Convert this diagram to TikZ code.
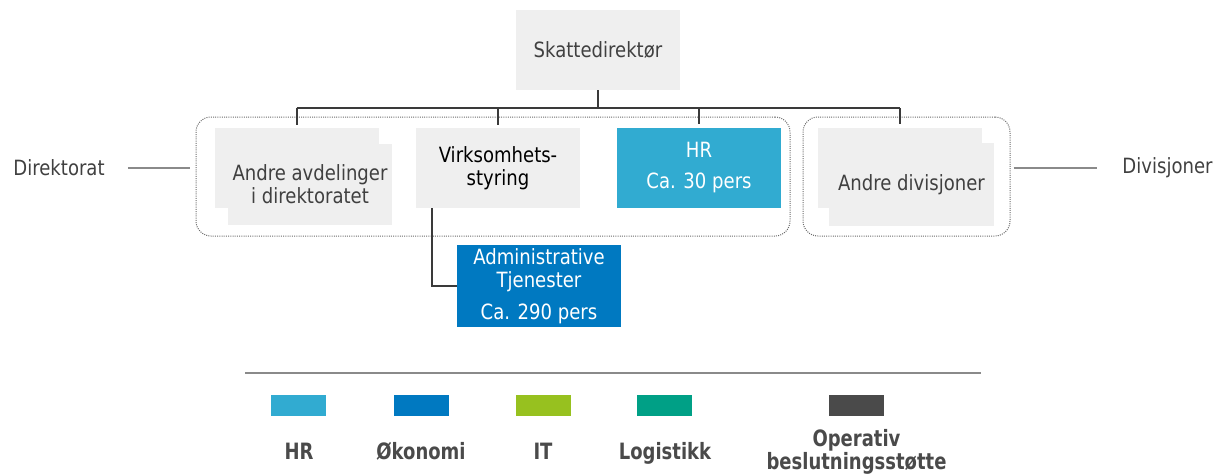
\documentclass[tikz,border=0pt]{standalone}
\usepackage{fontspec}
\setmainfont{DejaVu Sans}[FakeStretch=0.86]
\newfontfamily\legfont{DejaVu Sans}[FakeStretch=0.8]
\definecolor{boxgray}{HTML}{EFEFEF}
\definecolor{txtgray}{HTML}{404040}
\definecolor{linegray}{HTML}{3A3A3A}
\definecolor{framegray}{HTML}{8A8A8A}
\definecolor{dotgray}{HTML}{6A6A6A}
\definecolor{hrblue}{HTML}{31ABD1}
\definecolor{okoblue}{HTML}{0079C1}
\definecolor{itgreen}{HTML}{97C11F}
\definecolor{logteal}{HTML}{00A086}
\definecolor{opgray}{HTML}{4A4A4A}
\tikzset{
  orgbox/.style={rectangle, inner sep=0pt, minimum width=164pt, minimum height=80pt,
    align=center, font=\fontsize{21}{23}\selectfont},
  graybox/.style={orgbox, fill=boxgray, text=txtgray},
  conn/.style={draw=linegray, line width=2pt},
  frame/.style={draw=dotgray, dash pattern=on 1pt off 1.2pt, line width=1pt,
    rounded corners=15pt, rectangle, inner sep=0pt},
  sideline/.style={draw=framegray, line width=1.5pt},
  sidelabel/.style={inner sep=0pt, text=txtgray, font=\fontsize{21}{23}\selectfont},
  legsq/.style={rectangle, inner sep=0pt, minimum width=55pt, minimum height=21pt},
  leglabel/.style={inner sep=0pt, align=center, text=opgray,
    font=\legfont\bfseries\fontsize{22.5}{20}\selectfont}
}
\begin{document}
\begin{tikzpicture}[x=1pt, y=-1pt]
\useasboundingbox (0,0) rectangle (1223,474);

% dotted group frames
\node[frame, minimum width=594pt, minimum height=119pt] (dirframe) at (493,176.5) {};
\node[frame, minimum width=207pt, minimum height=119pt] (divframe) at (906.5,176.5) {};

% top of the hierarchy
\node[graybox] (skatt) at (598,50) {Skattedirektør};

% directorate units
\node[graybox] (andreB) at (296.5,168) {};
\node[graybox, minimum height=81pt] (andreF) at (310,184.5) {Andre avdelinger\\i direktoratet};
\node[graybox, text=black] (virks) at (498,168) {Virksomhets-\\styring};
\node[orgbox, fill=hrblue, text=white] (hr) at (699,167.5) {HR\\[8pt]Ca. 30 pers};

% divisions
\node[graybox] (divB) at (900,167.5) {};
\node[graybox, minimum width=165pt, minimum height=83pt] (divF) at (911.5,184.5) {Andre divisjoner};

% administrative services
\node[orgbox, fill=okoblue, text=white, minimum height=82pt] (admin) at (539,286)
  {Administrative\\Tjenester\\[9pt]Ca. 290 pers};

% tree connectors
\coordinate (bus) at (598,108);
\draw[conn] (skatt.south) -- (bus);
\draw[conn] (andreB.north |- bus) -- (divB.north |- bus);
\foreach \n in {andreB, virks, hr, divB}
  \draw[conn, shorten >=3pt] (\n.north |- bus) -- (\n.north);
\coordinate (vk) at ([xshift=16pt]virks.south west);
\draw[conn] (vk) |- (admin.west);

% side labels
\node[sidelabel] (dirlab) at (59,168) {Direktorat};
\node[sidelabel] (divlab) at (1167.5,168) {Divisjoner};
\draw[sideline] ([xshift=23pt]dirlab.east) -- ([xshift=-6pt]dirframe.west |- dirlab.east);
\draw[sideline] ([xshift=3pt]divframe.east |- divlab.west) -- ([xshift=-25pt]divlab.west);

% legend
\coordinate (legL) at (245,373);
\coordinate (legR) at (981,373);
\draw[draw=framegray, line width=1.5pt] (legL) -- (legR);
\node[legsq, fill=hrblue] (sqhr) at (298.5,405.5) {};
\node[legsq, fill=okoblue] (sqoko) at (421,405.5) {};
\node[legsq, fill=itgreen] (sqit) at (543.5,405.5) {};
\node[legsq, fill=logteal] (sqlog) at (664.5,405.5) {};
\node[legsq, fill=opgray] (sqop) at (856.5,405.5) {};
\node[leglabel, anchor=base] (lhr) at (299,459) {HR};
\node[leglabel, anchor=base] (loko) at (421,459) {Økonomi};
\node[leglabel, anchor=base] (lit) at (543,459) {IT};
\node[leglabel, anchor=base] (llog) at (665,459) {Logistikk};
\node[leglabel] (lop) at (856.5,452) {Operativ\\beslutningsstøtte};
\end{tikzpicture}
\end{document}
